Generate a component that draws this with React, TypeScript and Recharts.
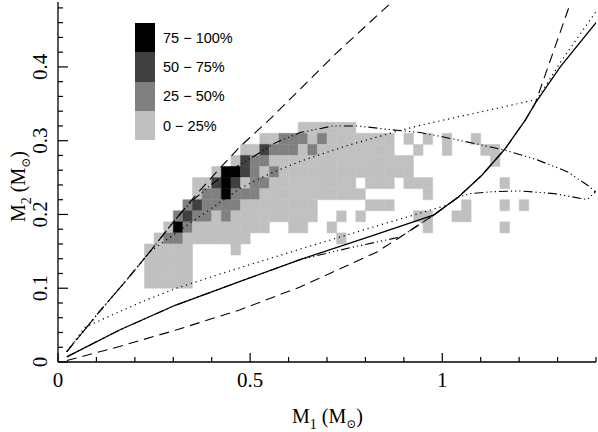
import React from 'react';
import { ScatterChart, Scatter, XAxis, YAxis, ReferenceArea } from 'recharts';

// M1 / M2 ticks
const m1Ticks = [0, 0.1, 0.2, 0.3, 0.4, 0.5, 0.6, 0.7, 0.8, 0.9, 1, 1.1, 1.2, 1.3, 1.4];
const m1Major = [0, 0.5, 1];
const m2Ticks = [0, 0.02, 0.04, 0.06, 0.08, 0.1, 0.12, 0.14, 0.16, 0.18, 0.2, 0.22, 0.24,
  0.26, 0.28, 0.3, 0.32, 0.34, 0.36, 0.38, 0.4, 0.42, 0.44, 0.46, 0.48];
const m2Major = [0, 0.1, 0.2, 0.3, 0.4];

// histogram bins: M1 from 0.225 in steps of 0.025, M2 from 0.1 in steps of 0.015
const binX0 = 0.225;
const binDX = 0.025;
const binY0 = 0.1;
const binDY = 0.015;

// one string per M2 bin, top row first. 1 = 0-25%, 2 = 25-50%, 3 = 50-75%, 4 = 75-100%
const binRows = [
  '................111111',
  '............11222121111111.1.1.1..1',
  '..........1132221211111111..1..1...11',
  '.........1322111111111111111........1',
  '.......144321211111111111111',
  '.....11343122111111111.111.111.......1',
  '.....122422211111111111......1',
  '....23222211111111.....111.......1...1.1',
  '...232212111111111..1.1.....11..11',
  '..14211111111..11..1.........1.......1',
  '.1221111111.........1',
  '11111....1',
  '11111',
  '11111',
  '11111',
];

const shades = ['#c0c0c0', '#808080', '#404040', '#000000'];
const legendLabels = ['75 − 100%', '50 − 75%', '25 − 50%', '0 − 25%'];

// curves [M1, M2]
const steepDashed = [[0.023, 0.014], [0.109, 0.069], [0.175, 0.109], [0.24, 0.15], [0.305, 0.193],
  [0.37, 0.233], [0.422, 0.263], [0.474, 0.292], [0.557, 0.332], [0.638, 0.374], [0.721, 0.417],
  [0.8, 0.455], [0.867, 0.487]];
const upperDashDot = [[0.023, 0.014], [0.109, 0.069], [0.175, 0.109], [0.24, 0.15], [0.305, 0.193],
  [0.35, 0.219], [0.4, 0.241], [0.45, 0.26], [0.51, 0.279], [0.565, 0.297], [0.63, 0.311],
  [0.716, 0.32], [0.779, 0.32], [0.865, 0.315], [0.943, 0.311], [1.003, 0.305], [1.086, 0.296],
  [1.164, 0.287], [1.247, 0.274], [1.325, 0.258], [1.377, 0.24], [1.398, 0.231]];
const upperDotted = [[0.023, 0.014], [0.109, 0.069], [0.175, 0.109], [0.24, 0.15], [0.305, 0.174],
  [0.404, 0.21], [0.474, 0.2355], [0.55, 0.255], [0.63, 0.272], [0.75, 0.293], [0.891, 0.314],
  [0.943, 0.321], [1.1, 0.339], [1.247, 0.356], [1.307, 0.406], [1.4, 0.475]];
const lowerDotted = [[0.023, 0.014], [0.07, 0.047], [0.15, 0.066], [0.22, 0.082], [0.305, 0.0995],
  [0.45, 0.124], [0.63, 0.153], [0.82, 0.183], [1.012, 0.2125]];
const solidCurve = [[0.023, 0.007], [0.1615, 0.0437], [0.305, 0.0769], [0.474, 0.1092], [0.63, 0.1388],
  [0.8125, 0.1704], [0.977, 0.199], [1.042, 0.2237], [1.103, 0.2532], [1.164, 0.2894],
  [1.216, 0.3278], [1.242, 0.3508], [1.307, 0.4], [1.4, 0.46]];
const lowerDashed = [[0.023, 0.002], [0.16, 0.021], [0.305, 0.043], [0.474, 0.0708], [0.63, 0.1017],
  [0.83, 0.1492], [0.891, 0.1695], [0.977, 0.199], [1.042, 0.2237], [1.103, 0.2532], [1.164, 0.2894],
  [1.216, 0.3278], [1.242, 0.3508], [1.333, 0.486]];
const lowerDashDot = [[0.023, 0.007], [0.1615, 0.0437], [0.305, 0.0769], [0.474, 0.1092], [0.63, 0.1388],
  [0.76, 0.1549], [0.891, 0.1695], [0.977, 0.199], [1.042, 0.2237], [1.073, 0.2283], [1.13, 0.2308],
  [1.203, 0.2319], [1.29, 0.2283], [1.377, 0.2202], [1.4, 0.2315]];

const pts = (arr: number[][]) => arr.map(([x, y]) => ({ x, y }));

const cells: { x1: number; x2: number; y1: number; y2: number; level: number }[] = [];
binRows.forEach((row, i) => {
  const r = binRows.length - 1 - i;
  row.split('').forEach((ch, c) => {
    if (ch === '.') return;
    cells.push({
      x1: binX0 + c * binDX,
      x2: binX0 + (c + 1) * binDX,
      y1: binY0 + r * binDY,
      y2: binY0 + (r + 1) * binDY,
      level: Number(ch),
    });
  });
});

const SERIF = '"Liberation Serif", "DejaVu Serif", serif';
const frame = { stroke: '#000', strokeWidth: 1.3 };

function BottomTick(props: any) {
  const { x, y, payload } = props;
  const major = m1Major.includes(payload.value);
  return (
    <g>
      <line x1={x} x2={x} y1={y} y2={y - (major ? 9 : 5)} stroke="#000" strokeWidth={1.2} />
      {major && (
        <text x={x} y={y + 25} textAnchor="middle" fontSize={21} fontFamily={SERIF} fill="#000">
          {String(payload.value)}
        </text>
      )}
    </g>
  );
}

function TopTick(props: any) {
  const { x, y, payload } = props;
  const major = m1Major.includes(payload.value);
  return <line x1={x} x2={x} y1={y} y2={y + (major ? 9 : 5)} stroke="#000" strokeWidth={1.2} />;
}

function LeftTick(props: any) {
  const { x, y, payload } = props;
  const major = m2Major.includes(payload.value);
  const lx = x - 11;
  return (
    <g>
      <line x1={x} x2={x + (major ? 10 : 5)} y1={y} y2={y} stroke="#000" strokeWidth={1.2} />
      {major && (
        <text x={lx} y={y} transform={`rotate(-90 ${lx} ${y})`} textAnchor="middle"
          fontSize={21} fontFamily={SERIF} fill="#000">
          {String(payload.value)}
        </text>
      )}
    </g>
  );
}

function RightTick(props: any) {
  const { x, y, payload } = props;
  const major = m2Major.includes(payload.value);
  return <line x1={x} x2={x - (major ? 10 : 5)} y1={y} y2={y} stroke="#000" strokeWidth={1.2} />;
}

function XTitle(props: any) {
  const { x, y, width } = props.viewBox;
  return (
    <text x={x + width / 2 - 35} y={y + 61} fontSize={20} fontFamily={SERIF} fill="#000">
      M<tspan fontSize={14} dy={6}>1</tspan>
      <tspan dy={-6}> (M</tspan>
      <tspan fontSize={12} dy={5}>⊙</tspan>
      <tspan dy={-5}>)</tspan>
    </text>
  );
}

function YTitle(props: any) {
  const { x, y, height } = props.viewBox;
  const bx = x + 25;
  const by = y + height / 2 + 40;
  return (
    <text x={bx} y={by} transform={`rotate(-90 ${bx} ${by})`} fontSize={20} fontFamily={SERIF} fill="#000">
      M<tspan fontSize={14} dy={6}>2</tspan>
      <tspan dy={-6}> (M</tspan>
      <tspan fontSize={12} dy={5}>⊙</tspan>
      <tspan dy={-5}>)</tspan>
    </text>
  );
}

const noPoint = () => <g />;

export default function App() {
  return (
    <div style={{ position: 'relative', width: 598, height: 432, background: '#fff' }}>
      <style>{'body{margin:0;background:#fff}'}</style>
      <ScatterChart width={598} height={432} margin={{ top: 2, right: 2, bottom: 0, left: 0 }}>
        <XAxis type="number" dataKey="x" domain={[0, 1.4]} allowDataOverflow ticks={m1Ticks}
          interval={0} height={70} tickSize={0} tickMargin={0} tickLine={false} tick={BottomTick}
          axisLine={frame} label={<XTitle />} />
        <XAxis xAxisId="top" orientation="top" type="number" domain={[0, 1.4]} allowDataOverflow
          ticks={m1Ticks} interval={0} height={0} tickSize={0} tickMargin={0} tickLine={false}
          tick={TopTick} axisLine={frame} />
        <YAxis type="number" dataKey="y" domain={[0, 0.488]} allowDataOverflow ticks={m2Ticks}
          interval={0} width={58} tickSize={0} tickMargin={0} tickLine={false} tick={LeftTick}
          axisLine={frame} label={<YTitle />} />
        <YAxis yAxisId="right" orientation="right" type="number" domain={[0, 0.488]} allowDataOverflow
          ticks={m2Ticks} interval={0} width={0} tickSize={0} tickMargin={0} tickLine={false}
          tick={RightTick} axisLine={frame} />
        {cells.map((c, i) => (
          <ReferenceArea key={i} x1={c.x1} x2={c.x2} y1={c.y1} y2={c.y2}
            fill={shades[c.level - 1]} fillOpacity={1} stroke={shades[c.level - 1]} strokeWidth={0.5}
            ifOverflow="visible" />
        ))}
        <Scatter data={pts(steepDashed)} fill="#000" shape={noPoint} isAnimationActive={false}
          line={{ stroke: '#000', strokeWidth: 1.1, strokeDasharray: '10 6' }} />
        <Scatter data={pts(upperDashDot)} fill="#000" shape={noPoint} isAnimationActive={false}
          line={{ stroke: '#000', strokeWidth: 1.1, strokeDasharray: '9 3 1.2 3 1.2 3 1.2 3' }} />
        <Scatter data={pts(upperDotted)} fill="#000" shape={noPoint} isAnimationActive={false}
          line={{ stroke: '#000', strokeWidth: 1.2, strokeDasharray: '1.2 3.8' }} />
        <Scatter data={pts(lowerDotted)} fill="#000" shape={noPoint} isAnimationActive={false}
          line={{ stroke: '#000', strokeWidth: 1.2, strokeDasharray: '1.2 3.8' }} />
        <Scatter data={pts(lowerDashed)} fill="#000" shape={noPoint} isAnimationActive={false}
          line={{ stroke: '#000', strokeWidth: 1.1, strokeDasharray: '10 6' }} />
        <Scatter data={pts(lowerDashDot)} fill="#000" shape={noPoint} isAnimationActive={false}
          line={{ stroke: '#000', strokeWidth: 1.1, strokeDasharray: '9 3 1.2 3 1.2 3 1.2 3' }} />
        <Scatter data={pts(solidCurve)} fill="#000" shape={noPoint} isAnimationActive={false}
          line={{ stroke: '#000', strokeWidth: 1.3 }} />
      </ScatterChart>
      <div style={{ position: 'absolute', left: 135, top: 23, fontFamily: '"Liberation Sans", Arial, sans-serif', fontSize: 14.5, color: '#000' }}>
        {legendLabels.map((t, i) => (
          <div key={t} style={{ display: 'flex', alignItems: 'center', height: 29.35 }}>
            <div style={{ width: 20, height: '100%', background: shades[3 - i] }} />
            <span style={{ marginLeft: 8, whiteSpace: 'pre' }}>{t}</span>
          </div>
        ))}
      </div>
    </div>
  );
}
